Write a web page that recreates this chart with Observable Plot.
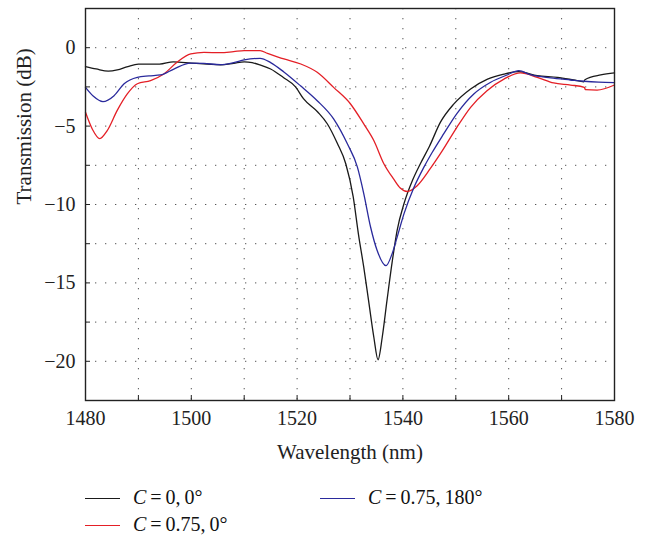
<!DOCTYPE html>
<html>
<head>
<meta charset="utf-8">
<script src="https://cdn.jsdelivr.net/npm/d3@7"></script>
<script src="https://cdn.jsdelivr.net/npm/@observablehq/plot@0.6"></script>
<style>
  html, body { margin: 0; padding: 0; background: #fff; }
  #wrap { position: relative; width: 645px; height: 537px; font-family: "Liberation Serif", serif; }
  .leg { position: absolute; font-size: 20px; color: #111; white-space: nowrap; line-height: 24px; word-spacing: -1px; }
  .sw { position: absolute; height: 0; border-top: 1.4px solid; width: 35px; }
</style>
</head>
<body>
<div id="wrap"></div>
<script>
// ---- data ----
const seriesNames = ["C = 0, 0°", "C = 0.75, 0°", "C = 0.75, 180°"];
const seriesColors = ["#1a1a1a", "#e41f26", "#2a2a9c"];

const wlBlack = [1480,1482,1484.3,1486,1488,1490,1494,1496.6,1500,1503,1505.5,1508,1510,1511.5,1513,1515,1517.4,1519.7,1521.2,1523.9,1525.7,1527.6,1529.2,1530.6,1531.6,1532.6,1533.5,1534.5,1535.3,1536.1,1537,1538,1538.9,1540.2,1541.8,1543.3,1545,1547.1,1549.6,1552.8,1556,1559.1,1561.9,1565.4,1569.2,1572.3,1574.2,1574.4,1577.4,1580];
const tBlack  = [-1.2,-1.35,-1.5,-1.42,-1.2,-1.05,-1.05,-0.9,-0.98,-1.05,-1.1,-1.0,-0.9,-0.95,-1.1,-1.36,-1.9,-2.5,-3.25,-4.1,-4.85,-6.1,-7.4,-9.5,-11.9,-14.0,-16.1,-18.45,-19.9,-18.45,-16.1,-13.6,-11.66,-9.95,-8.47,-7.4,-6.3,-4.75,-3.6,-2.63,-2.0,-1.68,-1.53,-1.78,-1.89,-2.06,-2.17,-2.04,-1.74,-1.61];

const wlRed = [1480,1481.3,1482.7,1484.1,1486,1487.9,1489.8,1492.3,1494.8,1497.3,1499.9,1502.4,1505.5,1508,1510,1513,1514.4,1517.5,1520.7,1523.8,1526.9,1530.1,1532.6,1534.5,1536.4,1538.3,1539.5,1540.8,1542.7,1545.2,1547.4,1550.2,1552.8,1555.9,1559.1,1562.2,1565.4,1568.5,1571.7,1574.3,1574.5,1576.7,1580];
const tRed  = [-4.12,-5.2,-5.8,-5.29,-4.0,-2.95,-2.3,-2.1,-1.68,-0.93,-0.4,-0.3,-0.32,-0.25,-0.19,-0.19,-0.36,-0.72,-1.04,-1.57,-2.53,-3.59,-4.86,-5.92,-7.4,-8.4,-8.95,-9.17,-8.8,-7.7,-6.6,-5.08,-3.8,-2.74,-2.0,-1.61,-1.89,-2.25,-2.38,-2.53,-2.68,-2.7,-2.38];

const wlBlue = [1480,1481.5,1483.3,1485.4,1487.3,1489.8,1492,1494.2,1496.7,1499.8,1502.4,1505.5,1508,1510,1513,1515,1517.5,1520.7,1523.8,1526.9,1529.5,1531.4,1532.6,1533.9,1535.1,1536.8,1538,1538.9,1540.2,1542.1,1544,1545.5,1547.7,1550.2,1553.4,1556.6,1559.7,1561.9,1564.1,1567.9,1571.7,1574.2,1577,1580];
const tBlue  = [-2.53,-3.1,-3.44,-3.06,-2.3,-1.89,-1.8,-1.74,-1.36,-0.98,-1.0,-1.08,-0.95,-0.78,-0.68,-0.95,-1.55,-2.45,-3.38,-4.54,-6.13,-7.62,-9.3,-11.45,-12.9,-13.9,-13.1,-12.1,-10.6,-8.9,-7.6,-6.7,-5.5,-4.2,-2.95,-2.2,-1.74,-1.46,-1.72,-1.93,-2.06,-2.14,-2.2,-2.23];

const xTicks = [1480, 1500, 1520, 1540, 1560, 1580];
const xMinor = [1490, 1500, 1510, 1520, 1530, 1540, 1550, 1560, 1570];
const yTicks = [0, -5, -10, -15, -20];
const yMinor = [0, -2.5, -5, -7.5, -10, -12.5, -15, -17.5, -20];
const xLabel = "Wavelength (nm)";
const yLabel = "Transmission (dB)";

// ---- build rows ----
const toRows = (wl, t, name) => wl.map((w, i) => ({wl: w, t: t[i], series: name}));
const data = [
  ...toRows(wlBlack, tBlack, seriesNames[0]),
  ...toRows(wlRed, tRed, seriesNames[1]),
  ...toRows(wlBlue, tBlue, seriesNames[2])
];

const minus = d => d < 0 ? "\u2212" + Math.abs(d) : String(d);

const chart = Plot.plot({
  width: 645,
  height: 470,
  marginLeft: 85,
  marginRight: 31,
  marginTop: 8,
  marginBottom: 70,
  style: {fontFamily: "Liberation Serif, serif", fontSize: "20px", color: "#222", background: "#fff"},
  x: {domain: [1480, 1580]},
  y: {domain: [-22.5, 2.5]},
  color: {domain: seriesNames, range: seriesColors},
  marks: [
    Plot.ruleX(xMinor, {stroke: "#555", strokeDasharray: "1.3,8.7", strokeWidth: 1}),
    Plot.ruleY(yMinor, {stroke: "#555", strokeDasharray: "1.3,8.7", strokeWidth: 1}),
    Plot.tickX(xMinor, {insetTop: 387, stroke: "#222", strokeWidth: 1}),
    Plot.tickY(yMinor, {insetRight: 524, stroke: "#222", strokeWidth: 1}),
    Plot.axisX(xTicks, {tickSize: 0, tickPadding: 10, label: null, fontSize: 20, tickFormat: d => String(d)}),
    Plot.axisY(yTicks, {tickSize: 0, tickPadding: 10, label: null, tickFormat: minus, fontSize: 20}),
    Plot.line(data, {x: "wl", y: "t", z: "series", stroke: "series", strokeWidth: 1.3, curve: "monotone-x"}),
    Plot.frame({stroke: "#222", strokeWidth: 1.4}),
    Plot.text([xLabel], {frameAnchor: "bottom", dy: 58, fontSize: 21, fill: "#222"}),
    Plot.text([yLabel], {frameAnchor: "left", dx: -61, rotate: -90, fontSize: 21, fill: "#222"})
  ]
});

const wrap = document.getElementById("wrap");
wrap.appendChild(chart);

// ---- legend (HTML, below the SVG) ----
const legPos = [[85, 498], [85, 525], [320, 498]];
seriesNames.forEach((name, i) => {
  const [lx, ly] = legPos[i];
  const sw = document.createElement("div");
  sw.className = "sw";
  sw.style.left = lx + "px";
  sw.style.top = ly + "px";
  sw.style.borderColor = seriesColors[i];
  wrap.appendChild(sw);
  const t = document.createElement("div");
  t.className = "leg";
  t.style.left = (lx + 48) + "px";
  t.style.top = (ly - 13) + "px";
  t.innerHTML = "<i>C</i>" + name.slice(1);
  wrap.appendChild(t);
});
</script>
</body>
</html>
